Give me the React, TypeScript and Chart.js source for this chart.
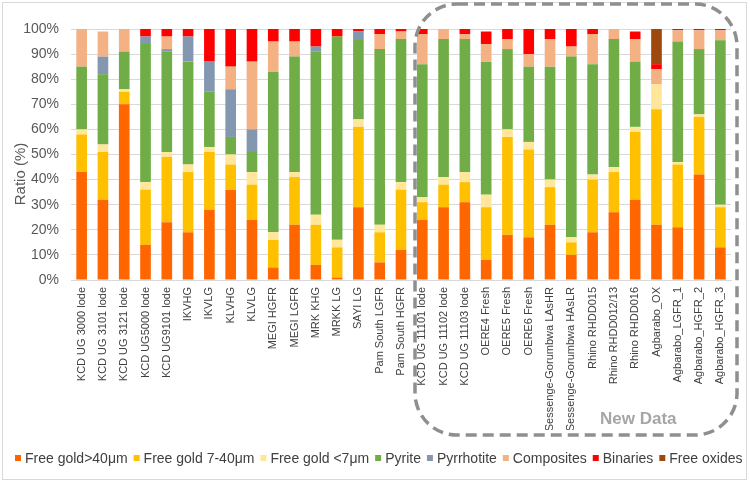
import React, { useEffect, useRef } from "react";
import { Chart, registerables } from "chart.js";

Chart.register(...registerables);

const categories = [
  "KCD UG 3000 lode", "KCD UG 3101 lode", "KCD UG 3121 lode", "KCD UG5000 lode", "KCD UG9101 lode",
  "IKVHG", "IKVLG", "KLVHG", "KLVLG", "MEGI HGFR", "MEGI LGFR", "MRK KHG", "MRKK LG", "SAYI LG",
  "Pam South LGFR", "Pam South HGFR", "KCD UG 11101 lode", "KCD UG 11102 lode", "KCD UG 11103 lode",
  "OERE4 Fresh", "OERE5 Fresh", "OERE6 Fresh", "Sessenge-Gorumbwa LAsHR", "Sessenge-Gorumbwa HAsLR",
  "Rhino RHDD015", "Rhino RHDD012/13", "Rhino RHDD016", "Agbarabo_OX", "Agbarabo_LGFR_1",
  "Agbarabo_HGFR_2", "Agbarabo_HGFR_3",
];

const freeGoldCoarse = [43, 32, 70, 14, 23, 19, 28, 36, 24, 5, 22, 6, 1, 29, 7, 12, 24, 29, 31, 8, 18, 17, 22, 10, 19, 27, 32, 22, 21, 42, 13];
const freeGoldMedium = [15, 19, 5, 22, 26, 24, 23, 10, 14, 11, 19, 16, 12, 32, 12, 24, 7, 9, 8, 21, 39, 35, 15, 5, 21, 16, 27, 46, 25, 23, 16];
const freeGoldFine = [2, 3, 1, 3, 2, 3, 2, 4, 5, 3, 2, 4, 3, 3, 3, 3, 2, 3, 4, 5, 3, 3, 3, 2, 2, 2, 2, 10, 1, 1, 1];
const pyrite = [25, 28, 15, 55, 40, 41, 22, 7, 8, 64, 46, 65, 81, 32, 70, 57, 53, 55, 53, 53, 32, 30, 45, 72, 44, 51, 26, 0, 48, 26, 65.5];
const pyrrhotite = [0, 7, 0, 3, 1, 10, 12, 19, 9, 0, 0, 2, 0, 3, 0, 0, 0, 0, 0, 0, 0, 0, 0, 0, 0, 0, 0, 0, 0, 0, 0];
const composites = [15, 10, 9, 0, 5, 0, 0, 9, 27, 12, 6, 0, 0, 0, 6, 3, 12, 4, 2, 7, 4, 5, 11, 4, 12, 4, 9, 6, 4.5, 7.5, 4];
const binaries = [0, 0, 0, 3, 3, 3, 13, 15, 13, 5, 5, 7, 3, 1, 2, 1, 2, 0, 2, 5, 4, 10, 4, 7, 2, 0, 3, 2, 0.5, 0.5, 0.5];
const freeOxides = [0, 0, 0, 0, 0, 0, 0, 0, 0, 0, 0, 0, 0, 0, 0, 0, 0, 0, 0, 0, 0, 0, 0, 0, 0, 0, 0, 14, 0, 0, 0];

const seriesLabels = ["Free gold>40μm", "Free gold 7-40μm", "Free gold <7μm", "Pyrite", "Pyrrhotite", "Composites", "Binaries", "Free oxides"];
const seriesColors = ["#FF6600", "#FFC000", "#FFE699", "#70AD47", "#8497B0", "#F4B183", "#FF0000", "#9E480E"];
const seriesValues = [freeGoldCoarse, freeGoldMedium, freeGoldFine, pyrite, pyrrhotite, composites, binaries, freeOxides];

const yTicks = [0, 10, 20, 30, 40, 50, 60, 70, 80, 90, 100];

const FONT = "'Liberation Sans', Arial, sans-serif";

const overlayPlugin = {
  id: "overlay",
  afterDraw(chart: any) {
    const ctx = chart.ctx as CanvasRenderingContext2D;
    ctx.save();
    // outer chart border
    ctx.strokeStyle = "#d9d9d9";
    ctx.lineWidth = 1;
    ctx.strokeRect(2.5, 2.5, 744, 477);

    // y axis title
    ctx.save();
    ctx.translate(21, 174);
    ctx.rotate(-Math.PI / 2);
    ctx.fillStyle = "#595959";
    ctx.font = `15px ${FONT}`;
    ctx.textAlign = "center";
    ctx.textBaseline = "middle";
    ctx.fillText("Ratio (%)", 0, 0);
    ctx.restore();

    // dashed "New Data" box
    ctx.save();
    ctx.strokeStyle = "#8f8f8f";
    ctx.lineWidth = 3.5;
    ctx.setLineDash([11, 6]);
    ctx.beginPath();
    (ctx as any).roundRect(415, 4, 322, 431, 42);
    ctx.stroke();
    ctx.restore();

    ctx.fillStyle = "#a6a6a6";
    ctx.font = `bold 17px ${FONT}`;
    ctx.textAlign = "left";
    ctx.textBaseline = "middle";
    ctx.fillText("New Data", 600, 419);

    // legend
    ctx.font = `14px ${FONT}`;
    ctx.textBaseline = "middle";
    let x = 15;
    const yc = 458;
    chart.data.datasets.forEach((ds: any) => {
      ctx.fillStyle = ds.backgroundColor;
      ctx.fillRect(x, yc - 3, 6, 6);
      x += 10;
      ctx.fillStyle = "#404040";
      ctx.fillText(ds.label, x, yc + 1);
      x += ctx.measureText(ds.label).width + 6;
    });
    ctx.restore();
  },
};

export default function App() {
  const canvasRef = useRef<HTMLCanvasElement>(null);

  useEffect(() => {
    if (!canvasRef.current) return;
    const chart = new Chart(canvasRef.current, {
      type: "bar",
      data: {
        labels: categories,
        datasets: seriesLabels.map((label, i) => ({
          label,
          data: seriesValues[i],
          backgroundColor: seriesColors[i],
          borderWidth: 0,
          categoryPercentage: 1,
          barPercentage: 0.5,
        })),
      },
      options: {
        responsive: false,
        animation: false,
        devicePixelRatio: 1,
        layout: { padding: { left: 0, right: 19, top: 29, bottom: 52 } },
        plugins: {
          legend: { display: false },
          tooltip: { enabled: false },
        },
        scales: {
          x: {
            stacked: true,
            grid: { display: false, drawTicks: false },
            border: { display: true, color: "#d9d9d9" },
            ticks: {
              autoSkip: false,
              maxRotation: 90,
              minRotation: 90,
              padding: 7,
              color: "#404040",
              font: { family: FONT, size: 11 },
            },
            afterFit: (scale: any) => {
              scale.height = 150;
            },
          },
          y: {
            stacked: true,
            min: 0,
            max: 100,
            afterBuildTicks: (scale: any) => {
              scale.ticks = yTicks.map((v) => ({ value: v }));
            },
            grid: { color: "#d9d9d9", drawTicks: false },
            border: { display: false },
            ticks: {
              padding: 12,
              color: "#595959",
              font: { family: FONT, size: 14 },
              callback: (v: any) => `${v}%`,
            },
            afterFit: (scale: any) => {
              scale.width = 71;
            },
          },
        },
      },
      plugins: [overlayPlugin],
    });
    return () => chart.destroy();
  }, []);

  return (
    <div style={{ position: "fixed", left: 0, top: 0, width: 750, height: 482, background: "#fff" }}>
      <canvas ref={canvasRef} width={750} height={482} style={{ display: "block" }} />
    </div>
  );
}
